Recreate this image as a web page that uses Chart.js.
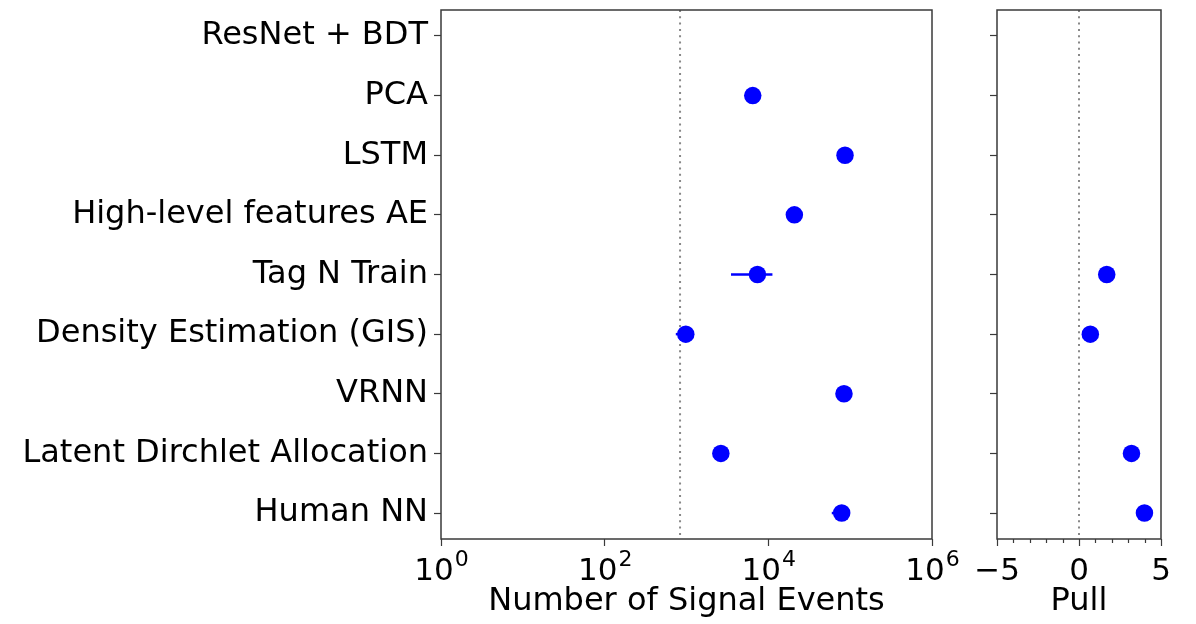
<!DOCTYPE html>
<html>
<head>
<meta charset="utf-8">
<script src="https://cdn.jsdelivr.net/npm/chart.js@4/dist/chart.umd.min.js"></script>
<style>
  html, body { margin: 0; padding: 0; background: #ffffff; }
  body { width: 1196px; height: 624px; position: relative; overflow: hidden; }
  canvas { position: absolute; top: 0; }
  #events { left: 0; }
  #pull { left: 960px; }
</style>
</head>
<body>
<canvas id="events" width="960" height="624"></canvas>
<canvas id="pull" width="236" height="624"></canvas>
<script>
// Methods, top to bottom
const methods = [
  'ResNet + BDT',
  'PCA',
  'LSTM',
  'High-level features AE',
  'Tag N Train',
  'Density Estimation (GIS)',
  'VRNN',
  'Latent Dirchlet Allocation',
  'Human NN'
];
// Predicted number of signal events per method (null = no estimate)
const signalEvents = [null, 6450, 86500, 20800, 7360, 980, 84000, 2630, 78800];
// Quoted uncertainty on the signal count
const signalErrors = [null, null, null, null, 3860, 240, null, null, 19200];
// Pull of each estimate with respect to the true signal
const pulls = [null, null, null, null, 1.69, 0.69, null, 3.2, 3.99];
// True number of injected signal events
const trueSignal = 834;

// Decade ticks on the event axis: value and power of ten
const eventTicks = [1, 100, 10000, 1000000];
const eventTickExponents = ['0', '2', '4', '6'];
const pullTicks = [-5, 0, 5];
const pullTickLabels = ['\u22125', '0', '5'];
const pullMinorTicks = [-4, -3, -2, -1, 1, 2, 3, 4];

const BLUE = '#0000ff';
const FAMILY = '"DejaVu Sans", sans-serif';
const FONT = { family: FAMILY, size: 32 };
const TICK_FONT = { family: FAMILY, size: 31 };
const SUP_SIZE = 22;
Chart.defaults.font.family = FAMILY;
Chart.defaults.color = '#000000';

const yMin = -0.435, yMax = methods.length - 1 + 0.435;
const rowIndex = methods.map((_, i) => i);
const AXIS_COLOR = '#3a3a3a';

// Box around the plotting area
const framePlugin = {
  id: 'frame',
  afterDraw(chart) {
    const { ctx, chartArea: a } = chart;
    ctx.save();
    ctx.strokeStyle = AXIS_COLOR;
    ctx.lineWidth = 1.5;
    ctx.strokeRect(a.left, a.top, a.width, a.height);
    ctx.restore();
  }
};

// Short minor ticks under the pull axis
const minorTickPlugin = {
  id: 'minorTicks',
  afterDraw(chart) {
    const { ctx, chartArea: a, scales } = chart;
    ctx.save();
    ctx.strokeStyle = AXIS_COLOR;
    ctx.lineWidth = 1.2;
    pullMinorTicks.forEach(v => {
      const x = Math.round(scales.x.getPixelForValue(v)) + 0.5;
      ctx.beginPath();
      ctx.moveTo(x, a.bottom);
      ctx.lineTo(x, a.bottom + 4);
      ctx.stroke();
    });
    ctx.restore();
  }
};

// Power-of-ten labels ("10" with a raised exponent) under the log axis
const powerLabelPlugin = {
  id: 'powerLabels',
  afterDraw(chart) {
    const { ctx, chartArea: a, scales } = chart;
    const baseline = a.bottom + 41;
    ctx.save();
    ctx.fillStyle = '#000000';
    ctx.textBaseline = 'alphabetic';
    ctx.textAlign = 'left';
    eventTicks.forEach((v, i) => {
      const x = scales.x.getPixelForValue(v);
      ctx.font = `${TICK_FONT.size}px ${FAMILY}`;
      const wBase = ctx.measureText('10').width;
      ctx.font = `${SUP_SIZE}px ${FAMILY}`;
      const wExp = ctx.measureText(eventTickExponents[i]).width;
      const left = x - (wBase + wExp) / 2;
      ctx.font = `${TICK_FONT.size}px ${FAMILY}`;
      ctx.fillText('10', left, baseline);
      ctx.font = `${SUP_SIZE}px ${FAMILY}`;
      ctx.fillText(eventTickExponents[i], left + wBase + 1, baseline - 14);
    });
    ctx.restore();
  }
};

function pointData(values) {
  return values
    .map((v, i) => (v === null ? null : { x: v, y: i }))
    .filter(p => p !== null);
}

function refLine(x) {
  return {
    type: 'line',
    data: [{ x: x, y: yMin }, { x: x, y: yMax }],
    borderColor: '#888888',
    borderWidth: 2,
    borderDash: [2, 4.3],
    pointRadius: 0,
    showLine: true,
    order: 3
  };
}

function markerSet(values) {
  return {
    type: 'scatter',
    data: pointData(values),
    backgroundColor: BLUE,
    borderColor: BLUE,
    borderWidth: 0,
    pointRadius: 8.75,
    pointHoverRadius: 8.75,
    order: 0
  };
}

const tickGrid = { drawOnChartArea: false, drawTicks: true, tickLength: 7, tickColor: AXIS_COLOR, tickWidth: 1.2 };

function yScale(showLabels, width) {
  return {
    type: 'linear',
    min: yMin,
    max: yMax,
    reverse: true,
    afterBuildTicks: s => { s.ticks = rowIndex.map(v => ({ value: v })); },
    afterFit: s => { s.width = width; s.paddingTop = 0; s.paddingBottom = 0; },
    grid: tickGrid,
    border: { display: false },
    ticks: {
      font: FONT,
      color: '#000000',
      padding: 6,
      autoSkip: false,
      callback: v => (showLabels ? methods[v] : '')
    }
  };
}

// Error bars drawn as short horizontal segments
const errorBarSets = [];
signalErrors.forEach((e, i) => {
  if (e === null || signalEvents[i] === null) return;
  errorBarSets.push({
    type: 'line',
    data: [{ x: signalEvents[i] - e, y: i }, { x: signalEvents[i] + e, y: i }],
    borderColor: BLUE,
    borderWidth: 2.5,
    pointRadius: 0,
    showLine: true,
    order: 1
  });
});

const common = {
  responsive: false,
  animation: false,
  devicePixelRatio: 1,
  events: [],
  plugins: { legend: { display: false }, tooltip: { enabled: false } }
};

new Chart(document.getElementById('events'), {
  type: 'scatter',
  data: { datasets: [markerSet(signalEvents), ...errorBarSets, refLine(trueSignal)] },
  options: {
    ...common,
    layout: { padding: { top: 10, right: 28, left: 0, bottom: 0 } },
    scales: {
      x: {
        type: 'logarithmic',
        min: eventTicks[0],
        max: eventTicks[eventTicks.length - 1],
        afterBuildTicks: s => { s.ticks = eventTicks.map(v => ({ value: v })); },
        afterFit: s => { s.height = 85; s.paddingLeft = 0; s.paddingRight = 0; },
        grid: tickGrid,
        border: { display: false },
        ticks: {
          font: TICK_FONT,
          autoSkip: false,
          maxRotation: 0,
          callback: () => ''
        },
        title: { display: true, text: 'Number of Signal Events', font: FONT, color: '#000000', padding: { top: 0, bottom: 3 } }
      },
      y: yScale(true, 441)
    }
  },
  plugins: [framePlugin, powerLabelPlugin]
});

new Chart(document.getElementById('pull'), {
  type: 'scatter',
  data: { datasets: [markerSet(pulls), refLine(0)] },
  options: {
    ...common,
    layout: { padding: { top: 10, right: 35, left: 0, bottom: 0 } },
    scales: {
      x: {
        type: 'linear',
        min: pullTicks[0],
        max: pullTicks[pullTicks.length - 1],
        afterBuildTicks: s => { s.ticks = pullTicks.map(v => ({ value: v })); },
        afterFit: s => { s.height = 85; s.paddingLeft = 0; s.paddingRight = 0; },
        grid: tickGrid,
        border: { display: false },
        ticks: {
          font: TICK_FONT,
          color: '#000000',
          padding: 7,
          autoSkip: false,
          maxRotation: 0,
          callback: v => pullTickLabels[pullTicks.indexOf(v)]
        },
        title: { display: true, text: 'Pull', font: FONT, color: '#000000', padding: { top: 0, bottom: 3 } }
      },
      y: yScale(false, 37)
    }
  },
  plugins: [framePlugin, minorTickPlugin]
});
</script>
</body>
</html>
